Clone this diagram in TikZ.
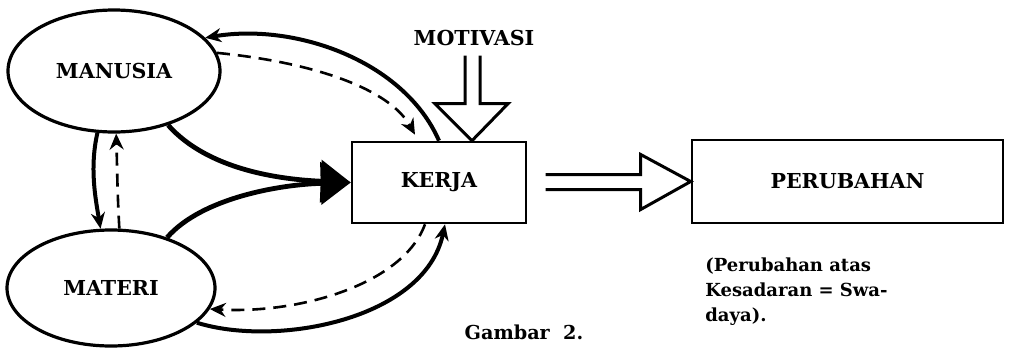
\documentclass[tikz,border=0pt]{standalone}
\usepackage{fontspec}
\setmainfont{DejaVu Serif}
\usetikzlibrary{arrows.meta,shapes.geometric}

\begin{document}
\begin{tikzpicture}[x=0.5pt,y=-0.5pt,>={Stealth[length=8pt,width=7pt]},
    font=\fontsize{10.3}{12}\selectfont\bfseries,
    blob/.style={ellipse,draw,line width=1.6pt,inner sep=0pt},
    box/.style={rectangle,draw,line width=1.3pt,inner sep=0pt},
    flow/.style={line width=2pt},
    dashflow/.style={line width=1.3pt,dash pattern=on 6.5pt off 4pt},
    hollow/.style={line width=1.5pt,line join=miter}]
  \useasboundingbox (0,0) rectangle (1009,349);
  % nodes
  \node[blob,minimum width=106pt,minimum height=61pt] (manusia) at (114,71) {MANUSIA};
  \node[blob,minimum width=104pt,minimum height=58pt] (materi)  at (111,288) {MATERI};
  \node[box,minimum width=87pt,minimum height=40.5pt]    (kerja)     at (439,182.5) {KERJA};
  \node[box,minimum width=155.5pt,minimum height=41.5pt] (perubahan) at (847.5,181.5) {PERUBAHAN};
  \node (motivasi) at (474,38) {MOTIVASI};
  \node[font=\fontsize{9.6}{12}\selectfont\bfseries] (gambar) at (524,332) {Gambar\ \ 2.};
  \node[anchor=north west,align=left,inner sep=0pt,
        font=\fontsize{9}{12.5}\selectfont\bfseries] (ket) at (705,257)
    {(Perubahan atas\\Kesadaran = Swa-\\daya).};
  % manusia, materi -> kerja
  \draw[flow,line width=2.4pt,-{Triangle[length=15pt,width=21pt]}]
    (manusia.-45) .. controls +(40,45) and +(-70,-3) .. (kerja.west);
  \draw[flow,line width=2.4pt,-{Triangle[length=15pt,width=21pt]}]
    (materi.42) .. controls +(35,-40) and +(-70,2) .. (kerja.west);
  % umpan balik
  \draw[flow,->] (kerja.north) .. controls +(-35,-80) and +(90,-15) .. (manusia.20);
  \draw[dashflow,->] (manusia.10) .. controls +(100,10) and +(-25,-45) .. ([xshift=-12pt,yshift=3pt]kerja.north);
  \draw[dashflow,->] ([xshift=-7pt]kerja.south) .. controls +(-22,60) and +(90,5) .. (materi.-12);
  \draw[flow,->] (materi.-22) .. controls +(80,25) and +(-20,95) .. ([xshift=3pt]kerja.south);
  \draw[flow,->] (manusia.-105) .. controls +(-8,35) and +(-5,-30) .. (materi.100);
  \draw[dashflow,->] (materi.82) .. controls +(-2,-35) and +(1,35) .. (manusia.-88);
  % panah kosong
  \coordinate (mtip) at ([xshift=16.5pt]kerja.north);
  \draw[hollow] (mtip) ++(-7,-85) -- ++(0,48) -- ++(-30,0) -- (mtip)
    -- ++(36,-37) -- ++(-28,0) -- ++(0,-48);
  \coordinate (ptip) at (perubahan.west);
  \draw[hollow] (ptip) ++(-145,-7) -- ++(95,0) -- ++(0,-20) -- (ptip)
    -- ++(-50,28) -- ++(0,-20) -- ++(-95,0);
\end{tikzpicture}
\end{document}
